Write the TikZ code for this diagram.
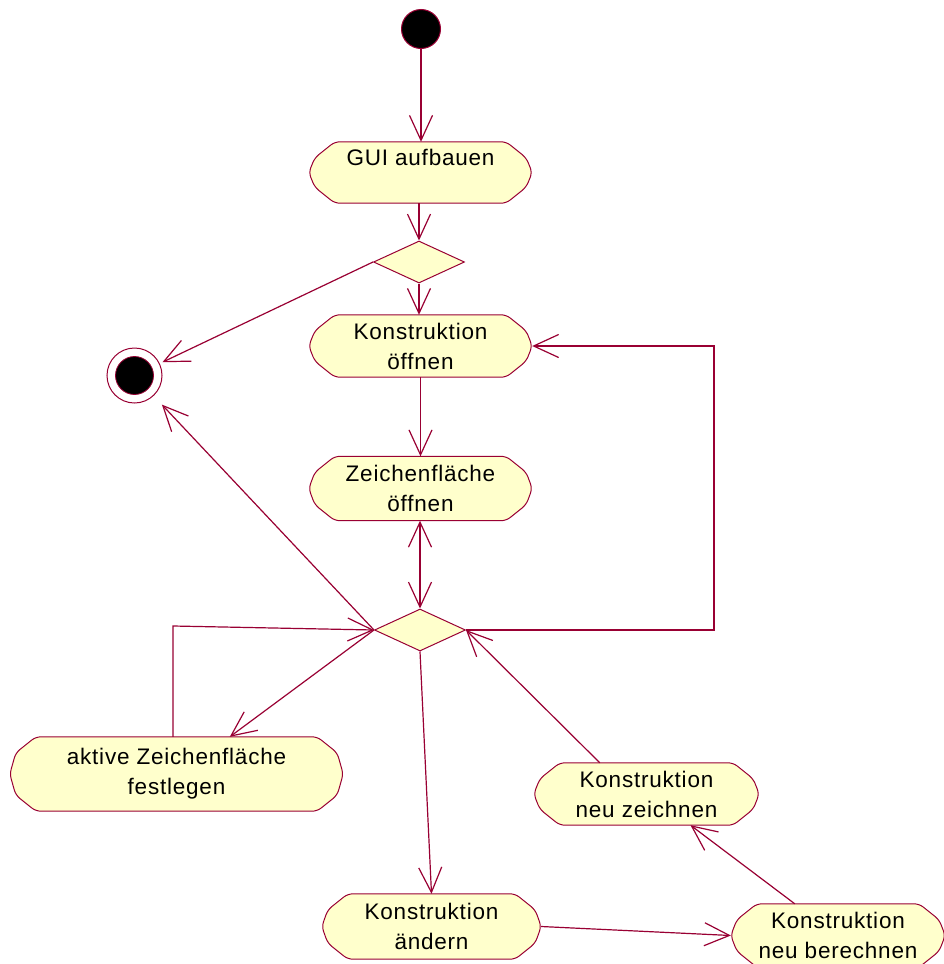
\documentclass[tikz,border=0pt]{standalone}
\usepackage{fontspec}
\setmainfont{Liberation Sans}[LetterSpace=3.5]
\usetikzlibrary{shapes.geometric,arrows.meta,calc,backgrounds}
\definecolor{roseline}{RGB}{153,0,51}
\definecolor{rosefill}{RGB}{255,255,204}

% activity outline: flat top and bottom, bulging rounded ends
\newcommand\actoutline[1]{%
  \filldraw[fill=rosefill, draw=roseline, line width=1bp, rounded corners=5bp]
    ($(#1.north west)+(26,0)$) -- ($(#1.north east)+(-26,0)$)
    -- ($(#1.north east)+(-6,16)$) -- (#1.east) -- ($(#1.south east)+(-6,-16)$)
    -- ($(#1.south east)+(-26,0)$) -- ($(#1.south west)+(26,0)$)
    -- ($(#1.south west)+(6,-16)$) -- (#1.west) -- ($(#1.north west)+(6,16)$)
    -- cycle;}

\begin{document}
\begin{tikzpicture}[x=1bp, y=-1bp,
  >={Straight Barb[length=25bp,width=23bp]},
  flow/.style={draw=roseline, line width=1.2bp, ->},
  act/.style={shape=rectangle, draw=none, inner sep=0pt, align=center,
    font=\fontsize{22.5bp}{30bp}\selectfont},
  decision/.style={diamond, draw=roseline, fill=rosefill, line width=1bp,
    minimum width=91bp, minimum height=42bp, inner sep=0pt, aspect=2.17},
  startstate/.style={circle, fill=black, draw=roseline, line width=1bp,
    minimum size=39bp, inner sep=0pt},
  endstate/.style={circle, fill=white, draw=roseline, line width=1bp,
    minimum size=55bp, inner sep=0pt,
    path picture={\filldraw[fill=black, draw=roseline, line width=0.8bp]
      (path picture bounding box.center) circle (19bp);}}]

\useasboundingbox (0,0) rectangle (944,964);

% states and decisions
\node[startstate] (start) at (421,29) {};
\node[endstate] (endn) at (134.5,375.5) {};
\node[decision] (d1) at (419,262) {};
\node[decision] (d2) at (420,630) {};

% activities
\node[act, minimum width=223bp, minimum height=61bp] (gui) at (420.5,172.5) {GUI aufbauen\\ \mbox{}};
\node[act, minimum width=223bp, minimum height=62bp] (kopen) at (420.5,346) {Konstruktion\\öffnen};
\node[act, minimum width=223bp, minimum height=64bp] (zopen) at (420.5,488.5) {Zeichenfläche\\öffnen};
\node[act, minimum width=333bp, minimum height=74bp] (aktiv) at (176.5,774) {aktive Zeichenfläche\\festlegen};
\node[act, minimum width=225bp, minimum height=62bp] (kdraw) at (646.5,794) {Konstruktion\\neu zeichnen};
\node[act, minimum width=219bp, minimum height=65bp] (kchange) at (431.5,926.5) {Konstruktion\\ändern};
\node[act, minimum width=214bp, minimum height=63bp] (kcalc) at (838,935.5) {Konstruktion\\neu berechnen};

\begin{scope}[on background layer]
  \fill[white] (0,0) rectangle (944,964);
  \foreach \n in {gui,kopen,zopen,aktiv,kdraw,kchange,kcalc} {\actoutline{\n}}
\end{scope}

% bend points of the loops
\coordinate (rloop) at (714,630);
\coordinate (lloop) at (173,626);

% transitions
\draw[flow] (start) -- (gui.north -| start);
\draw[flow] (gui.south -| d1) -- (d1.north);
\draw[flow] (d1.south) -- (kopen.north -| d1);
\draw[flow, shorten >=3bp] (d1.west) -- (endn);
\draw[flow] (kopen.south) -- (zopen.north);
\draw[flow, <->] (zopen.south -| d2) -- (d2.north);
\draw[flow, shorten >=12bp] (d2.west) -- (endn);
\draw[flow] (d2.east) -- (rloop) |- (kopen.east);
\draw[flow] (aktiv.north -| lloop) -- (lloop) -- (d2.west);
\draw[flow] (d2.west) -- ($(aktiv.north west)+(220,0)$);
\draw[flow] (d2.south) -- (kchange.north);
\draw[flow] (kchange.east) -- (kcalc.west);
\draw[flow] ($(kcalc.north west)+(64,0)$) -- ($(kdraw.south)+(44,0)$);
\draw[flow] ($(kdraw.north west)+(66,0)$) -- (d2.east);
\end{tikzpicture}
\end{document}
